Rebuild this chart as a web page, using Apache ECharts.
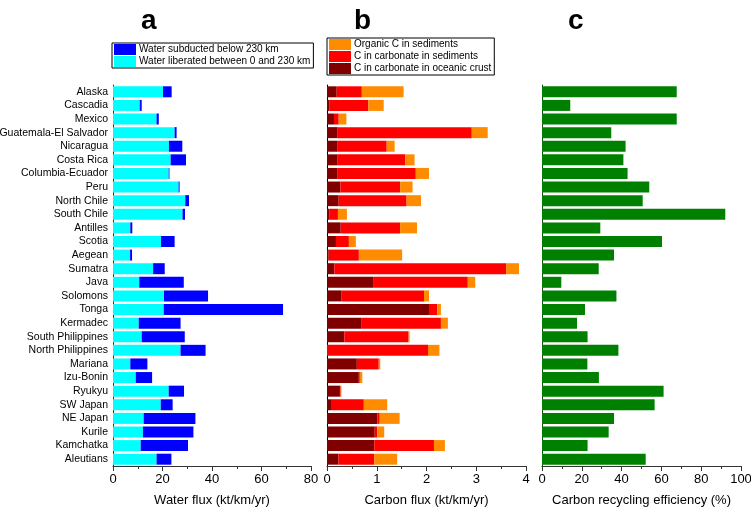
<!DOCTYPE html>
<html><head><meta charset="utf-8">
<script src="https://cdn.jsdelivr.net/npm/echarts@6/dist/echarts.min.js"></script>
<style>html,body{margin:0;padding:0;background:#fff}#c{width:751px;height:508px}</style>
</head><body><div id="c"></div>
<script>
const regions = ["Alaska","Cascadia","Mexico","Guatemala-El Salvador","Nicaragua","Costa Rica","Columbia-Ecuador","Peru","North Chile","South Chile","Antilles","Scotia","Aegean","Sumatra","Java","Solomons","Tonga","Kermadec","South Philippines","North Philippines","Mariana","Izu-Bonin","Ryukyu","SW Japan","NE Japan","Kurile","Kamchatka","Aleutians"];
const waterLiberated = [20.2,10.8,17.6,24.9,22.6,23.3,22.5,26.5,29.2,28.1,7.0,19.4,6.9,16.2,10.6,20.6,20.5,10.4,11.6,27.3,7.0,9.2,22.5,19.3,12.4,12.1,11.2,17.6];
const waterSubducted = [3.5,0.8,0.9,0.8,5.4,6.2,0.3,0.4,1.5,1.0,0.8,5.5,0.8,4.7,18.0,17.8,48.2,16.9,17.4,10.1,6.9,6.6,6.2,4.8,20.9,20.4,19.1,6.0];
const carbCrust = [0.195,0.054,0.14,0.215,0.215,0.215,0.215,0.27,0.235,0.054,0.275,0.18,0.034,0.148,0.926,0.295,2.05,0.685,0.35,0.0,0.60,0.64,0.26,0.08,1.01,0.96,0.95,0.23];
const carbSed = [0.505,0.776,0.095,2.695,0.985,1.355,1.57,1.20,1.365,0.166,1.195,0.26,0.606,3.452,1.904,1.655,0.165,1.605,1.29,2.03,0.44,0.02,0.015,0.66,0.05,0.05,1.20,0.72];
const organicC = [0.84,0.31,0.155,0.32,0.16,0.19,0.265,0.25,0.29,0.18,0.34,0.14,0.87,0.26,0.15,0.10,0.075,0.14,0.02,0.23,0.03,0.05,0.015,0.47,0.40,0.14,0.22,0.46];
const recycling = [67.7,14.2,67.7,34.8,42.0,40.9,43.0,53.9,50.6,92.1,29.3,60.3,36.2,28.5,9.7,37.4,21.6,17.6,22.9,38.4,22.8,28.6,61.1,56.6,36.2,33.5,22.9,52.1];
const waterTicks = {min:0,max:80,interval:20};
const carbonTicks = {min:0,max:4,interval:1};
const effTicks = {min:0,max:100,interval:20};

const FONT = "'Liberation Sans', Arial, sans-serif";
const chart = echarts.init(document.getElementById('c'), null, {renderer:'canvas'});
const gridTop = 85, gridBottom = 42;
function xAxis(idx, t, name){
  return {type:'value', gridIndex:idx, min:t.min, max:t.max, interval:t.interval,
    name:name, nameLocation:'middle', nameGap:28, nameTextStyle:{fontFamily:FONT,fontSize:13,color:'#000'},
    axisLine:{show:true,lineStyle:{color:'#333',width:1}},
    axisTick:{show:true,inside:false,length:5,lineStyle:{color:'#333'}},
    minorTick:{show:true,splitNumber:2,length:3,lineStyle:{color:'#333'}},
    axisLabel:{fontFamily:FONT,fontSize:13,color:'#000',margin:7},
    splitLine:{show:false}};
}
function yAxis(idx, showLabels){
  return {type:'category', gridIndex:idx, data:regions, inverse:true,
    axisLine:{show:true,lineStyle:{color: idx===1?'#000':'#333',width:1}},
    axisTick:{show:false},
    axisLabel:{show:showLabels,interval:0,fontFamily:FONT,fontSize:10.5,color:'#000',margin:5}};
}
const bw = 11;
const option = {
  animation:false,
  backgroundColor:'#fff',
  title:[
    {text:'a',left:136,top:2,textStyle:{fontFamily:FONT,fontSize:28,fontWeight:'bold',color:'#000'}},
    {text:'b',left:349,top:2,textStyle:{fontFamily:FONT,fontSize:28,fontWeight:'bold',color:'#000'}},
    {text:'c',left:563,top:2,textStyle:{fontFamily:FONT,fontSize:28,fontWeight:'bold',color:'#000'}}
  ],
  legend:[
    {data:['Water subducted below 230 km','Water liberated between 0 and 230 km'],
     orient:'vertical',left:112,top:43,itemWidth:22,itemHeight:11,itemGap:1,icon:'rect',
     padding:[1,3,1,2],borderColor:'#000',borderWidth:1,selectedMode:false,
     textStyle:{fontFamily:FONT,fontSize:10,color:'#000',padding:[0,0,0,-2]}},
    {data:['Organic C in sediments','C in carbonate in sediments','C in carbonate in oceanic crust'],
     orient:'vertical',left:327,top:38,itemWidth:22,itemHeight:11,itemGap:1,icon:'rect',
     padding:[1,3,1,2],borderColor:'#000',borderWidth:1,selectedMode:false,
     textStyle:{fontFamily:FONT,fontSize:10,color:'#000',padding:[0,0,0,-2]}}
  ],
  grid:[
    {left:113,width:198,top:gridTop,bottom:gridBottom,outerBoundsMode:'none',containLabel:false},
    {left:327,width:199,top:gridTop,bottom:gridBottom,outerBoundsMode:'none',containLabel:false},
    {left:542,width:199,top:gridTop,bottom:gridBottom,outerBoundsMode:'none',containLabel:false}
  ],
  xAxis:[xAxis(0,waterTicks,'Water flux (kt/km/yr)'),xAxis(1,carbonTicks,'Carbon flux (kt/km/yr)'),xAxis(2,effTicks,'Carbon recycling efficiency (%)')],
  yAxis:[yAxis(0,true),yAxis(1,false),yAxis(2,false)],
  series:[
    {name:'Water liberated between 0 and 230 km',type:'bar',stack:'w',xAxisIndex:0,yAxisIndex:0,barWidth:bw,data:waterLiberated,itemStyle:{color:'#00FFFF'}},
    {name:'Water subducted below 230 km',type:'bar',stack:'w',xAxisIndex:0,yAxisIndex:0,barWidth:bw,data:waterSubducted,itemStyle:{color:'#0000FF'}},
    {name:'C in carbonate in oceanic crust',type:'bar',stack:'c',xAxisIndex:1,yAxisIndex:1,barWidth:bw,data:carbCrust,itemStyle:{color:'#800000'}},
    {name:'C in carbonate in sediments',type:'bar',stack:'c',xAxisIndex:1,yAxisIndex:1,barWidth:bw,data:carbSed,itemStyle:{color:'#FF0000'}},
    {name:'Organic C in sediments',type:'bar',stack:'c',xAxisIndex:1,yAxisIndex:1,barWidth:bw,data:organicC,itemStyle:{color:'#FF8C00'}},
    {name:'Carbon recycling efficiency',type:'bar',xAxisIndex:2,yAxisIndex:2,barWidth:bw,data:recycling,itemStyle:{color:'#008000'}}
  ]
};
chart.setOption(option);
</script>
</body></html>
